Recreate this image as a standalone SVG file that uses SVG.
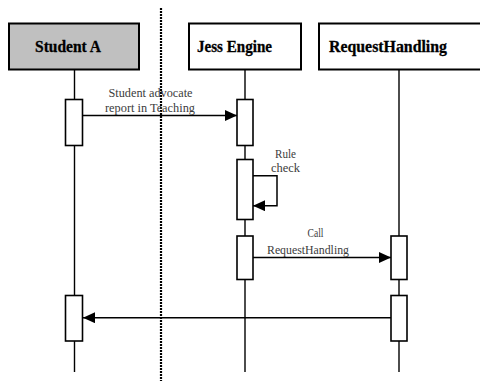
<svg xmlns="http://www.w3.org/2000/svg" width="480" height="382" viewBox="0 0 480 382">
<defs>
<style>
.hdr{stroke:#000;stroke-width:2;}
.hdrt{font-family:"Liberation Serif","Times New Roman",serif;font-weight:bold;font-size:16.5px;fill:#000;stroke:#000;stroke-width:0.3;}
.life{stroke:#000;stroke-width:1.4;fill:none;}
.act{fill:#fff;stroke:#000;stroke-width:1.6;}
.msg{stroke:#000;stroke-width:1.5;fill:none;}
.lbl{font-family:"Liberation Serif","Times New Roman",serif;font-size:13.5px;fill:#3c3c3c;text-anchor:middle;}
</style>
<marker id="arr" viewBox="0 0 12 11" refX="12" refY="5.5" markerWidth="12" markerHeight="11" markerUnits="userSpaceOnUse" orient="auto">
<path d="M0,0 L12,5.5 L0,11 Z" fill="#000"/>
</marker>
</defs>
<rect width="480" height="382" fill="#fff"/>

<g id="boundary">
<line x1="161" y1="8" x2="161" y2="381" stroke="#000" stroke-width="2.2" stroke-dasharray="2 1"/>
</g>

<g id="studentA">
<line class="life" x1="74.5" y1="69" x2="74.5" y2="372"/>
<rect class="hdr" x="9" y="23.5" width="130" height="46" fill="#c0c0c0"/>
<text class="hdrt" x="35" y="52" textLength="66" lengthAdjust="spacingAndGlyphs">Student A</text>
<rect class="act" x="65.5" y="99.5" width="17" height="46"/>
<rect class="act" x="65.5" y="295.5" width="17" height="45.5"/>
</g>

<g id="jessEngine">
<line class="life" x1="245" y1="69" x2="245" y2="372"/>
<rect class="hdr" x="189" y="23.5" width="112" height="46" fill="#fff"/>
<text class="hdrt" x="197" y="52" textLength="75" lengthAdjust="spacingAndGlyphs">Jess Engine</text>
<rect class="act" x="237" y="99.5" width="16" height="46"/>
<rect class="act" x="237" y="159.5" width="16" height="60"/>
<rect class="act" x="237" y="236" width="16" height="43.5"/>
</g>

<g id="requestHandling">
<line class="life" x1="399" y1="69" x2="399" y2="372"/>
<rect class="hdr" x="319" y="23.5" width="170" height="46" fill="#fff"/>
<text class="hdrt" x="329" y="52" textLength="118" lengthAdjust="spacingAndGlyphs">RequestHandling</text>
<rect class="act" x="391" y="236" width="16" height="43.5"/>
<rect class="act" x="391" y="295.5" width="16" height="45.5"/>
</g>

<g id="connectors">
<line class="msg" x1="83" y1="115.5" x2="237" y2="115.5" marker-end="url(#arr)"/>
<text class="lbl" x="150.5" y="97" textLength="84" lengthAdjust="spacingAndGlyphs">Student advocate</text>
<text class="lbl" x="150" y="112" textLength="90" lengthAdjust="spacingAndGlyphs">report in Teaching</text>

<polyline class="msg" points="253,175.7 277,175.7 277,205.7 253,205.7" marker-end="url(#arr)"/>
<text class="lbl" x="285.5" y="158" textLength="21" lengthAdjust="spacingAndGlyphs">Rule</text>
<text class="lbl" x="285.5" y="172" textLength="29" lengthAdjust="spacingAndGlyphs">check</text>

<line class="msg" x1="253" y1="257.5" x2="391" y2="257.5" marker-end="url(#arr)"/>
<text class="lbl" x="315.5" y="237" textLength="16" lengthAdjust="spacingAndGlyphs">Call</text>
<text class="lbl" x="308" y="253.5" textLength="82" lengthAdjust="spacingAndGlyphs">RequestHandling</text>

<line class="msg" x1="391" y1="317.7" x2="83" y2="317.7" marker-end="url(#arr)"/>
</g>
</svg>
